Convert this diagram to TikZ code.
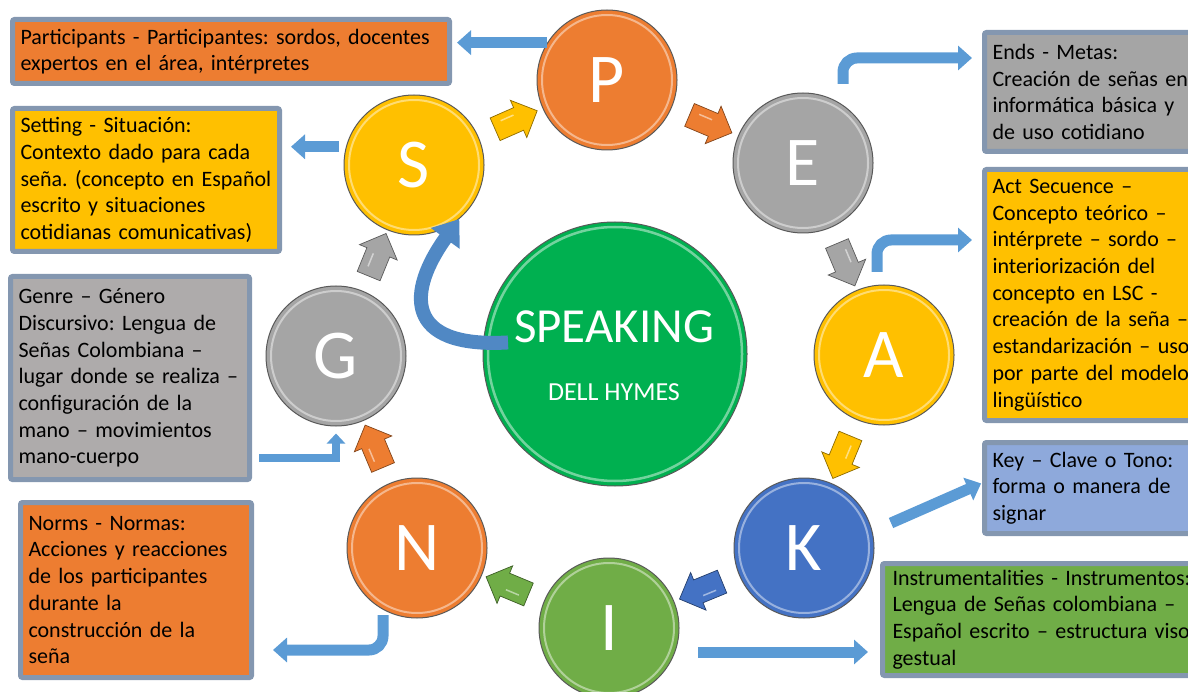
\documentclass[tikz,border=0pt]{standalone}
\usepackage{fontspec}
\setmainfont{Carlito}
\usetikzlibrary{arrows.meta,shapes.arrows,calc}
\frenchspacing
\hyphenpenalty=10000
\exhyphenpenalty=10000

\definecolor{naranja}{HTML}{ED7D31}
\definecolor{oro}{HTML}{FFC000}
\definecolor{gris}{HTML}{A5A5A5}
\definecolor{grisg}{HTML}{AEABAB}
\definecolor{azulk}{HTML}{4472C4}
\definecolor{verde}{HTML}{70AD47}
\definecolor{verdec}{HTML}{00B050}
\definecolor{celeste}{HTML}{8EA9DB}
\definecolor{marco}{HTML}{8497B0}
\definecolor{azul}{HTML}{5B9BD5}
\definecolor{azulcurva}{HTML}{5088C4}

\tikzset{
  letra/.style={circle, fill=#1, draw=black!65, line width=1pt, minimum size=140pt,
    inner sep=0pt, text=white, font=\fontsize{70}{70}\selectfont,
    path picture={\draw[white, opacity=.45, line width=2pt]
      (path picture bounding box.center) circle[radius=65pt];}},
  centro/.style={circle, fill=verdec, draw=black!65, line width=1pt, minimum size=264pt,
    inner sep=0pt,
    path picture={\draw[white, opacity=.45, line width=2.5pt]
      (path picture bounding box.center) circle[radius=127pt];}},
  caja/.style={draw=marco, line width=5pt, rounded corners=2pt, fill=#1,
    anchor=north west, inner xsep=8pt, inner ysep=0pt, align=left,
    font=\fontsize{22}{26.7}\selectfont},
  flecha/.style={draw=azul, line width=11pt, -{Triangle[width=24pt,length=14pt]}},
  flechafina/.style={draw=azul, line width=8pt, -{Triangle[width=18pt,length=10pt]}},
  curva/.style={draw=azulcurva, line width=14pt, -{Triangle[width=34pt,length=24pt]}},
  bloque/.style={single arrow, fill=#1, draw=#1!55!black, line width=.7pt,
    minimum height=46pt, inner xsep=0pt, inner ysep=12pt, single arrow head extend=8pt,
    path picture={\draw[white, opacity=.5, line width=1.5pt]
      ([xshift=-12pt,yshift=5pt]path picture bounding box.center) -- ++(14pt,0);}},
}

\begin{document}
\begin{tikzpicture}[x=1pt, y=-1pt]
  \useasboundingbox (0,0) rectangle (1188,692);

  % Circulo central
  \node[centro] (speaking) at (615,354) {};
  \node[font=\fontsize{49}{49}\selectfont, text=white] (titulo) at (614,327) {SPEAKING};
  \node[font=\fontsize{26}{26}\selectfont, text=white] (autor) at (614,392) {DELL HYMES};

  % Circulos de letras
  \node[letra=naranja] (p) at (607,80) {P};
  \node[letra=gris] (e) at (803,163) {E};
  \node[letra=oro] (a) at (884,355) {A};
  \node[letra=azulk] (k) at (804,548) {K};
  \node[letra=verde] (i) at (609,628) {I};
  \node[letra=naranja] (n) at (417,548) {N};
  \node[letra=gris] (g) at (336,356) {G};
  \node[letra=oro] (s) at (414,165) {S};

  % Flechas de bloque
  \path (s) -- (p) node[midway, sloped, allow upside down, bloque=oro] (sp) {};
  \path (p) -- (e) node[midway, sloped, allow upside down, bloque=naranja] (pe) {};
  \path (e) -- (a) node[midway, sloped, allow upside down, bloque=gris] (ea) {};
  \path (a) -- (k) node[midway, sloped, allow upside down, bloque=oro] (ak) {};
  \path (k) -- (i) node[midway, sloped, allow upside down, bloque=azulk] (ki) {};
  \path (i) -- (n) node[midway, sloped, allow upside down, bloque=verde] (in) {};
  \path (n) -- (g) node[midway, sloped, allow upside down, bloque=naranja] (ng) {};
  \path (g) -- (s) node[midway, sloped, allow upside down, bloque=gris] (gs) {};

  % Flecha curva
  \draw[curva] ([xshift=25pt]speaking.175) .. controls +(-105,6) and +(-52,72) .. (s.-50);

  % Cajas
  \node[caja=naranja, minimum width=437pt, minimum height=64pt, text width=421pt] (part) at (10,17)
    {Participants - Participantes: sordos, docentes\\expertos en el área, intérpretes};
  \node[caja=oro, minimum width=267pt, minimum height=143pt, text width=251pt] (sett) at (10,106)
    {Setting - Situación:\\Contexto dado para cada\\seña. (concepto en Español\\escrito y situaciones\\cotidianas comunicativas)};
  \node[caja=gris, minimum width=225pt, minimum height=119pt, text width=209pt] (ends) at (982,30)
    {Ends - Metas:\\Creación de señas en\\informática básica y\\de uso cotidiano};
  \node[caja=oro, minimum width=225pt, minimum height=251pt, text width=209pt] (act) at (982,167)
    {Act Secuence –\\Concepto teórico –\\intérprete – sordo –\\interiorización del\\concepto en LSC -\\creación de la seña –\\estandarización – uso\\por parte del modelo\\lingüístico};
  \node[caja=celeste, minimum width=225pt, minimum height=91pt, text width=209pt] (key) at (982,440)
    {Key – Clave o Tono:\\forma o manera de\\signar};
  \node[caja=verde, minimum width=318pt, minimum height=112pt, text width=298pt] (instr) at (880,561)
    {\makebox[298pt][s]{Instrumentalities - Instrumentos:}\\
     \makebox[298pt][s]{Lengua de Señas colombiana –}\\
     \makebox[298pt][s]{Español escrito – estructura viso}\\
     gestual};
  \node[caja=grisg, minimum width=239pt, minimum height=203pt, text width=223pt] (genre) at (8,274)
    {Genre – Género\\Discursivo: Lengua de\\Señas Colombiana –\\lugar donde se realiza –\\configuración de la\\mano – movimientos\\mano-cuerpo};
  \node[caja=naranja, minimum width=231pt, minimum height=175pt, text width=215pt] (norms) at (18,500)
    {Norms - Normas:\\Acciones y reacciones\\de los participantes\\durante la\\construcción de la\\seña};

  % Conectores
  \draw[flecha, shorten >=5pt] (p.148) -- (p.148 -| part.east);
  \draw[flecha, shorten >=9pt] ([xshift=-7pt]s.165) -- (s.165 -| sett.east);
  \draw[flecha, rounded corners=14pt, shorten >=10pt] ($(e.center)+(40,-79)$) |- ($(ends.west)+(0,-34)$);
  \draw[flecha, rounded corners=14pt, shorten >=10pt] ($(a.center)+(-7,-83)$) |- ($(act.west)+(0,-55)$);
  \draw[flecha, shorten >=1pt] ($(k.center)+(87,-25)$) -- ($(key.west)+(0,-5)$);
  \draw[flecha, shorten >=12pt] ($(i.center)+(89,24)$) coordinate (i0) -- (i0 -| instr.west);
  \draw[flecha, rounded corners=14pt, shorten >=19pt] ($(n.center)+(-34,67)$) |- ($(norms.east)+(0,60)$);
  \draw[flechafina] ($(genre.east)+(7,80)$) -| ($(g.south)+(0,7)$);
\end{tikzpicture}
\end{document}
